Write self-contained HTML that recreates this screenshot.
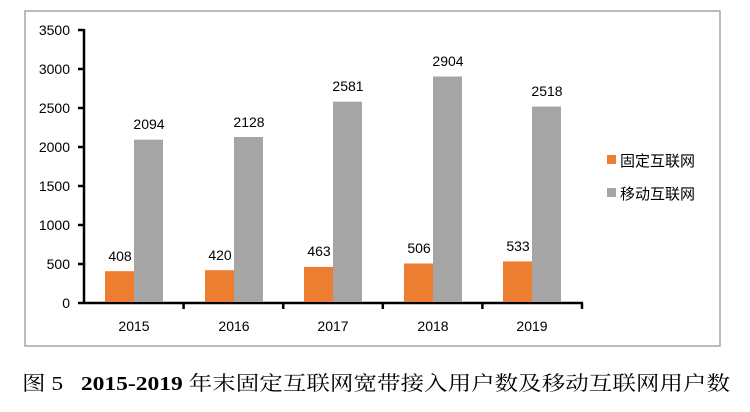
<!DOCTYPE html>
<html><head><meta charset="utf-8"><style>
body{margin:0;width:750px;height:407px;background:#fff;overflow:hidden}
</style></head><body>
<svg width="750" height="407" xmlns="http://www.w3.org/2000/svg" font-family="Liberation Sans, 'Noto Sans CJK SC', sans-serif">
<rect x="25" y="11" width="695" height="335" fill="#fff" stroke="#a6a6a6" stroke-width="1.5"/>
<g font-size="14" fill="#000" text-anchor="end">
<text x="70" y="308">0</text><text x="70" y="269">500</text><text x="70" y="230">1000</text><text x="70" y="191">1500</text><text x="70" y="152">2000</text><text x="70" y="113">2500</text><text x="70" y="74">3000</text><text x="70" y="35">3500</text>
</g>
<g stroke="#000" stroke-width="2.5">
<line x1="84" y1="29" x2="84" y2="304"/>
<line x1="78" y1="303" x2="583" y2="303"/>
<line x1="78" y1="30" x2="84" y2="30"/><line x1="78" y1="69" x2="84" y2="69"/><line x1="78" y1="108" x2="84" y2="108"/><line x1="78" y1="147" x2="84" y2="147"/><line x1="78" y1="186" x2="84" y2="186"/><line x1="78" y1="225" x2="84" y2="225"/><line x1="78" y1="264" x2="84" y2="264"/>
<line x1="183.6" y1="303" x2="183.6" y2="309"/><line x1="283.2" y1="303" x2="283.2" y2="309"/><line x1="382.8" y1="303" x2="382.8" y2="309"/><line x1="482.4" y1="303" x2="482.4" y2="309"/><line x1="582" y1="303" x2="582" y2="309"/>
</g>
<g>
<rect x="105" y="271.2" width="29" height="30.8" fill="#ed7d31"/><rect x="134" y="139.7" width="29" height="162.3" fill="#a5a5a5"/>
<rect x="205" y="270.2" width="29" height="31.8" fill="#ed7d31"/><rect x="234" y="137" width="29" height="165" fill="#a5a5a5"/>
<rect x="304" y="266.9" width="29" height="35.1" fill="#ed7d31"/><rect x="333" y="101.7" width="29" height="200.3" fill="#a5a5a5"/>
<rect x="404" y="263.5" width="29" height="38.5" fill="#ed7d31"/><rect x="433" y="76.5" width="29" height="225.5" fill="#a5a5a5"/>
<rect x="503" y="261.4" width="29" height="40.6" fill="#ed7d31"/><rect x="532" y="106.6" width="29" height="195.4" fill="#a5a5a5"/>
</g>
<g font-size="14" text-anchor="middle">
<text x="120" y="261">408</text><text x="149" y="129">2094</text>
<text x="220" y="260">420</text><text x="249" y="127">2128</text>
<text x="319" y="256">463</text><text x="348" y="91">2581</text>
<text x="419" y="253">506</text><text x="448" y="66">2904</text>
<text x="518" y="251">533</text><text x="547" y="96">2518</text>
<text x="134" y="331">2015</text><text x="234" y="331">2016</text><text x="333" y="331">2017</text><text x="433" y="331">2018</text><text x="532" y="331">2019</text>
</g>
<rect x="607" y="155" width="9" height="9" fill="#ed7d31"/>
<text x="620" y="166" font-size="15">固定互联网</text>
<rect x="607" y="188" width="9" height="9" fill="#a5a5a5"/>
<text x="620" y="199" font-size="15">移动互联网</text>
<text x="22" y="390" font-size="20" font-family="'Liberation Serif','Noto Serif CJK SC',serif" xml:space="preserve" textLength="708" lengthAdjust="spacingAndGlyphs">图 5   <tspan font-weight="bold">2015-2019</tspan> 年末固定互联网宽带接入用户数及移动互联网用户数</text>
</svg>
</body></html>
